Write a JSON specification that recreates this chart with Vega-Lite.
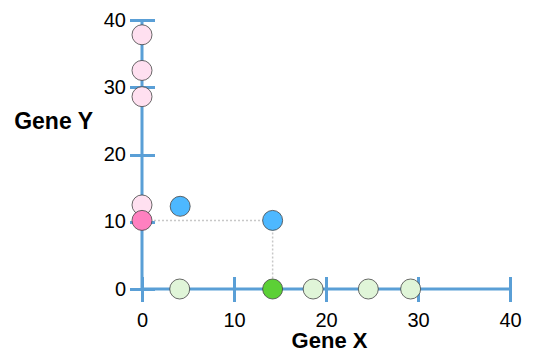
{
  "$schema": "https://vega.github.io/schema/vega-lite/v6.json",
  "width": 368,
  "height": 269,
  "autosize": {"type": "none"},
  "padding": {"left": 142, "top": 20, "right": 28, "bottom": 69},
  "background": "white",
  "config": {"view": {"stroke": null}},
  "datasets": {
    "points": [
      {"gx": 0, "gy": 37.8, "group": "Y only"},
      {"gx": 0, "gy": 32.5, "group": "Y only"},
      {"gx": 0, "gy": 28.6, "group": "Y only"},
      {"gx": 0, "gy": 12.5, "group": "Y only"},
      {"gx": 0, "gy": 10.2, "group": "Y focus"},
      {"gx": 4.15, "gy": 12.3, "group": "Both"},
      {"gx": 14.2, "gy": 10.2, "group": "Both"},
      {"gx": 14.2, "gy": 0, "group": "X focus"},
      {"gx": 4.1, "gy": 0, "group": "X only"},
      {"gx": 18.6, "gy": 0, "group": "X only"},
      {"gx": 24.6, "gy": 0, "group": "X only"},
      {"gx": 29.2, "gy": 0, "group": "X only"}
    ],
    "guides": [
      {"gx": 0, "gy": 10.2, "gx2": 14.2, "gy2": 10.2},
      {"gx": 14.2, "gy": 10.2, "gx2": 14.2, "gy2": 0}
    ],
    "axislines": [
      {"gx": 0, "gy": 0, "gx2": 0, "gy2": 40},
      {"gx": 0, "gy": 0, "gx2": 40, "gy2": 0}
    ]
  },
  "layer": [
    {
      "data": {"name": "axislines"},
      "mark": {"type": "rule", "color": "#5a9fd6", "strokeWidth": 3},
      "encoding": {
        "x": {"field": "gx", "type": "quantitative"},
        "y": {"field": "gy", "type": "quantitative"},
        "x2": {"field": "gx2"},
        "y2": {"field": "gy2"}
      }
    },
    {
      "data": {"name": "guides"},
      "mark": {"type": "rule", "color": "#c8c8c8", "strokeWidth": 1.5, "strokeDash": [2, 2]},
      "encoding": {
        "x": {"field": "gx", "type": "quantitative"},
        "y": {"field": "gy", "type": "quantitative"},
        "x2": {"field": "gx2"},
        "y2": {"field": "gy2"}
      }
    },
    {
      "data": {"name": "points"},
      "mark": {"type": "point", "filled": true, "shape": "circle", "size": 400, "opacity": 1, "stroke": "#444444", "strokeWidth": 0.8},
      "encoding": {
        "x": {
          "field": "gx", "type": "quantitative",
          "scale": {"domain": [0, 40], "nice": false, "zero": false},
          "axis": {
            "title": "Gene X", "values": [0, 10, 20, 30, 40], "domain": false, "grid": false,
            "labelFlush": false,
            "offset": -12.5, "tickSize": 25, "tickWidth": 3, "tickColor": "#5a9fd6",
            "labelPadding": 9, "labelFont": "Liberation Sans", "labelFontSize": 20, "labelColor": "#000000",
            "titleFont": "Liberation Sans", "titleFontSize": 22, "titleFontWeight": "bold", "titleColor": "#000000",
            "titleX": 187, "titleY": 64, "titleBaseline": "middle", "titleAlign": "center"
          }
        },
        "y": {
          "field": "gy", "type": "quantitative",
          "scale": {"domain": [0, 40], "nice": false, "zero": false},
          "axis": {
            "title": "Gene Y", "values": [0, 10, 20, 30, 40], "domain": false, "grid": false,
            "labelFlush": false,
            "offset": -12.5, "tickSize": 25, "tickWidth": 3, "tickColor": "#5a9fd6",
            "labelPadding": 4, "labelFont": "Liberation Sans", "labelFontSize": 20, "labelColor": "#000000",
            "titleFont": "Liberation Sans", "titleFontSize": 23, "titleFontWeight": "bold", "titleColor": "#000000",
            "titleAngle": 0, "titleX": -62, "titleY": 101, "titleBaseline": "middle", "titleAlign": "right"
          }
        },
        "color": {
          "field": "group", "type": "nominal", "legend": null,
          "scale": {
            "domain": ["Y only", "Y focus", "Both", "X focus", "X only"],
            "range": ["#ffe0f0", "#ff80c0", "#4db8ff", "#5cd036", "#e0f5d8"]
          }
        }
      }
    }
  ]
}
